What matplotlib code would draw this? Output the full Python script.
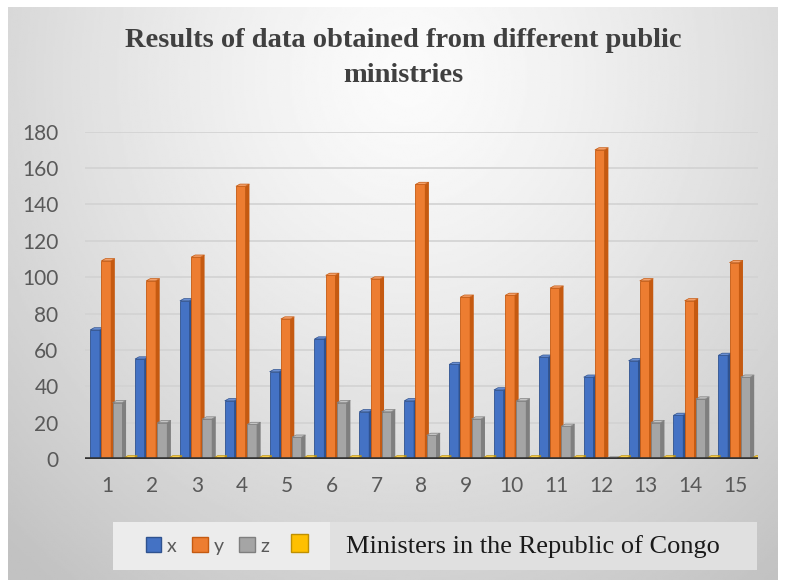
import numpy as np
import matplotlib
matplotlib.use("Agg")
import matplotlib.pyplot as plt
from matplotlib.patches import Rectangle, Polygon

categories = [str(i) for i in range(1, 16)]
x_vals = [71, 55, 87, 32, 48, 66, 26, 32, 52, 38, 56, 45, 54, 24, 57]
y_vals = [109, 98, 111, 150, 77, 101, 99, 151, 89, 90, 94, 170, 98, 87, 108]
z_vals = [31, 20, 22, 19, 12, 31, 26, 13, 22, 32, 18, 0, 20, 33, 45]
m_vals = [0.6] * 15
series_names = ["x", "y", "z", "Ministers in the Republic of Congo"]
yticks = [0, 20, 40, 60, 80, 100, 120, 140, 160, 180]
title = "Results of data obtained from different public\nministries"

colors = ["#4472C4", "#ED7D31", "#A5A5A5", "#FFC000"]
side_colors = ["#2F528F", "#C55A11", "#7F7F7F", "#BF9000"]
top_colors = ["#6A8FD3", "#F4A06A", "#C4C4C4", "#FFD24D"]

W, H = 786, 580
fig = plt.figure(figsize=(W / 100, H / 100), dpi=100)
fig.patch.set_facecolor("white")

# background gradient for chart area
bg = fig.add_axes([8 / W, 0, 770 / W, 1 - 7 / H], zorder=-10)
gx, gy = np.meshgrid(np.linspace(0, 1, 400), np.linspace(0, 1, 300))
r = np.sqrt(((gx - 0.52) / 0.75) ** 2 + ((gy - 0.12) / 1.1) ** 2)
val = np.clip(0.985 - 0.22 * r ** 1.3, 0.76, 1)
bg.imshow(val, cmap="gray", vmin=0, vmax=1, aspect="auto", extent=[0, 1, 1, 0])
bg.set_axis_off()

ax = fig.add_axes([85 / W, 1 - 459 / H, (758 - 85) / W, (459 - 131.7) / H])
ax.set_facecolor("none")
ax.set_xlim(-0.5, 14.5)
ax.set_ylim(0, 180)

pos = np.arange(len(categories))
offsets = [-0.28, -0.03, 0.22, 0.47]
width = 0.21
dx, dy = 0.09, 1.2
all_vals = [x_vals, y_vals, z_vals, m_vals]
for k, vals in enumerate(all_vals):
    bars = ax.bar(pos + offsets[k], vals, width, color=colors[k],
                  edgecolor=side_colors[k], linewidth=0.6, zorder=3 + k * 0.1)
    for b in bars:
        x0, x1 = b.get_x(), b.get_x() + b.get_width()
        h = b.get_height()
        side = Polygon([(x1, 0), (x1 + dx, dy), (x1 + dx, h + dy), (x1, h)],
                       closed=True, facecolor=side_colors[k], edgecolor="none",
                       zorder=3 + k * 0.1)
        top = Polygon([(x0, h), (x0 + dx, h + dy), (x1 + dx, h + dy), (x1, h)],
                      closed=True, facecolor=top_colors[k], edgecolor=side_colors[k],
                      linewidth=0.5, zorder=3 + k * 0.1)
        ax.add_patch(side)
        ax.add_patch(top)

ax.set_yticks(yticks)
ax.set_xticks(pos)
ax.set_xticklabels(categories)
for s in ax.spines.values():
    s.set_visible(False)
ax.axhline(0, color="#333333", lw=2.6, zorder=10)
ax.yaxis.grid(True, color="#d2d2d2", lw=1.2)
ax.set_axisbelow(True)
ax.tick_params(axis="both", length=0, labelsize=15, labelcolor="#595959")
ax.tick_params(axis="y", pad=19)
ax.tick_params(axis="x", pad=12)
for lab in ax.get_xticklabels() + ax.get_yticklabels():
    lab.set_fontfamily("Lato")

fig.text(0.513, 1 - 58 / H, title, ha="center", va="center", fontsize=20.5,
         fontweight="bold", family="Liberation Serif", color="#404040",
         linespacing=1.5)

# legend background
fig.patches.append(Rectangle((113 / W, 1 - 570 / H), (330 - 113) / W, 48 / H,
                             transform=fig.transFigure, facecolor="#ececec",
                             edgecolor="none", zorder=0))
fig.patches.append(Rectangle((330 / W, 1 - 570 / H), (757 - 330) / W, 48 / H,
                             transform=fig.transFigure, facecolor="#e0e0e0",
                             edgecolor="none", zorder=0))
handles = [Rectangle((0, 0), 1, 1, facecolor=colors[k], edgecolor=side_colors[k], lw=1)
           for k in range(4)]
leg1 = fig.legend(handles[:3], series_names[:3], loc="center left",
                  bbox_to_anchor=(128 / W, 1 - 546 / H), ncol=3, frameon=False,
                  handlelength=0.8, handleheight=0.8, handletextpad=0.3,
                  columnspacing=0.8, prop={"family": "Lato", "size": 14})
for t in leg1.get_texts():
    t.set_color("#595959")
leg2 = fig.legend(handles[3:], series_names[3:], loc="center left",
                  bbox_to_anchor=(267 / W, 1 - 546 / H), ncol=1, frameon=False,
                  handlelength=0.65, handleheight=0.65, handletextpad=1.45,
                  prop={"family": "Liberation Serif", "size": 19})
for t in leg2.get_texts():
    t.set_color("#1a1a1a")

fig.savefig("out.png", dpi=100)
